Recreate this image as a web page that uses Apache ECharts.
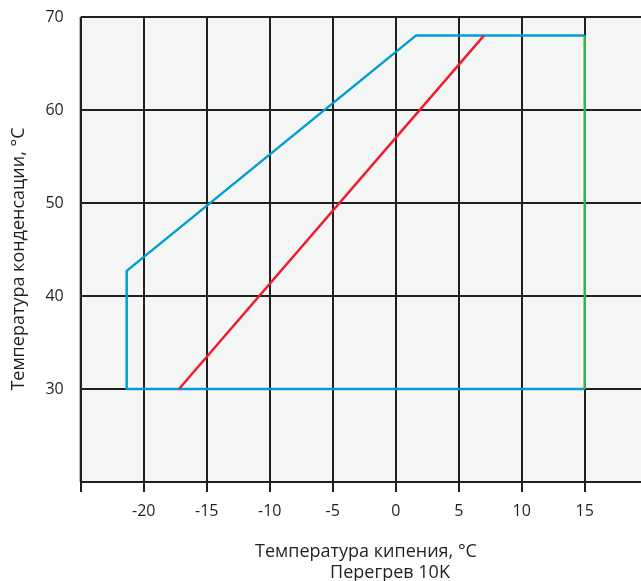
<!DOCTYPE html>
<html><head><meta charset="utf-8">
<script src="https://cdn.jsdelivr.net/npm/echarts@6/dist/echarts.min.js"></script>
<style>html,body{margin:0;padding:0;background:#fff}#c{width:641px;height:581px}</style>
</head><body><div id="c"></div>
<script>
const xTitle = 'Температура кипения, °C';
const xSubTitle = 'Перегрев 10K';
const yTitle = 'Температура конденсации, °C';
const blueLine = [[15,30],[-21.35,30],[-21.35,42.7],[1.6,68],[15,68]];
const greenLine = [[15,68],[15,30]];
const redLine = [[-17.2,30],[7,68]];
const xHiddenLabels = [-25, 20];
const yHiddenLabels = [20];

const chart = echarts.init(document.getElementById('c'));
const font = '"Open Sans", "Noto Sans", sans-serif';
const ink = '#231f20';
chart.setOption({
  animation:false,
  grid:{left:80.7, top:17, width:567, height:465, show:true, backgroundColor:'#f4f6f5', borderWidth:0,
    outerBoundsMode:'none', containLabel:false},
  xAxis:{type:'value', min:-25, max:20, interval:5,
    axisLine:{show:false},
    axisTick:{show:true, length:10, lineStyle:{color:ink,width:2}},
    splitLine:{show:true, lineStyle:{color:ink,width:2}},
    axisLabel:{margin:21, color:ink, fontSize:16, fontFamily:font,
      formatter:v=> xHiddenLabels.includes(v)?'':String(v)}
  },
  yAxis:{type:'value', min:20, max:70, interval:10,
    axisLine:{show:false},
    axisTick:{show:true, length:10, lineStyle:{color:ink,width:2}},
    splitLine:{show:true, lineStyle:{color:ink,width:2}},
    axisLabel:{margin:17, color:ink, fontSize:16, fontFamily:font,
      formatter:v=> yHiddenLabels.includes(v)?'':String(v)}
  },
  graphic:[
    {type:'line', shape:{x1:80.7,y1:17,x2:80.7,y2:482}, style:{stroke:ink,lineWidth:2}, z:5},
    {type:'text', style:{text:xTitle, x:366, y:552, align:'center', verticalAlign:'middle', fill:ink, fontSize:18, fontFamily:font}},
    {type:'text', style:{text:xSubTitle, x:390, y:573, align:'center', verticalAlign:'middle', fill:ink, fontSize:18, fontFamily:font}},
    {type:'text', x:19, y:259, rotation:Math.PI/2, style:{text:yTitle, x:0, y:0, align:'center', verticalAlign:'middle', fill:ink, fontSize:18, fontFamily:font}}
  ],
  series:[
    {type:'line', data:blueLine, showSymbol:false, lineStyle:{color:'#009fcf', width:2.5}, z:3},
    {type:'line', data:greenLine, showSymbol:false, lineStyle:{color:'#3bb54a', width:2.5}, z:3},
    {type:'line', data:redLine, showSymbol:false, lineStyle:{color:'#ed1c2e', width:2.5}, z:3}
  ]
});
</script></body></html>
